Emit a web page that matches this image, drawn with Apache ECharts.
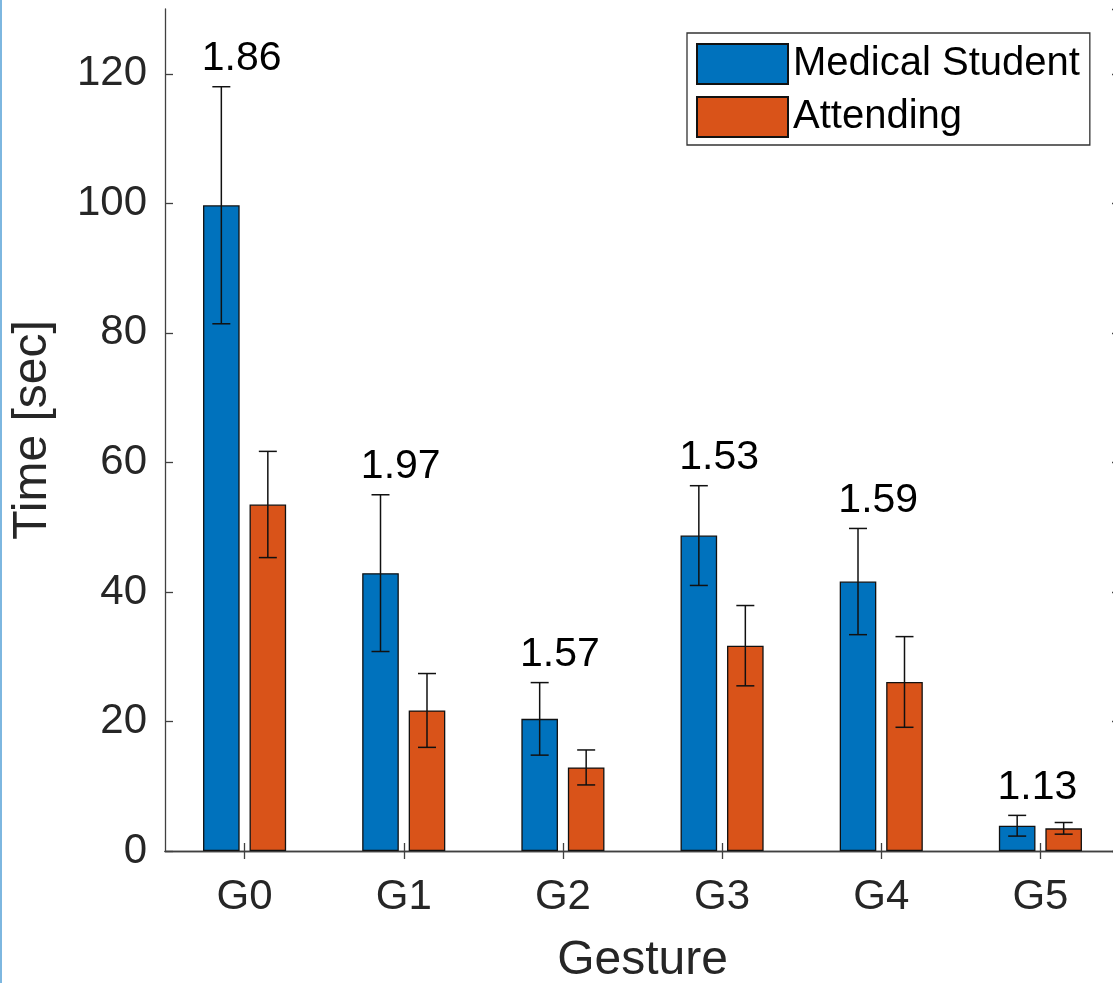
<!DOCTYPE html>
<html>
<head>
<meta charset="utf-8">
<script src="https://cdn.jsdelivr.net/npm/echarts@6/dist/echarts.min.js"></script>
<style>
  html, body { margin: 0; padding: 0; background: #fff; }
  #chart { width: 1113px; height: 983px; }
</style>
</head>
<body>
<div id="chart"></div>
<script>
const categories = ['G0', 'G1', 'G2', 'G3', 'G4', 'G5']
const studentMean = [99.7, 42.9, 20.4, 48.7, 41.6, 3.9]
const studentStd = [18.3, 12.1, 5.6, 7.7, 8.2, 1.6]
const attendingMean = [53.5, 21.7, 12.9, 31.7, 26.1, 3.5]
const attendingStd = [8.2, 5.7, 2.7, 6.2, 7.0, 0.9]
const ratioLabels = ['1.86', '1.97', '1.57', '1.53', '1.59', '1.13']

const BLUE = '#0072BD'
const ORANGE = '#D95319'
const AXIS = '#404040'
const TEXT = '#262626'
const FONT = '"Liberation Sans", Arial, sans-serif'
const BAR_W = 0.23
const BAR_GAP = 0.27

const chart = echarts.init(document.getElementById('chart'))

// error bar drawn at the centre of its bar (side = -1 left bar, +1 right bar)
const errorBar = (side) => (params, api) => {
  const i = api.value(0)
  const m = api.value(1)
  const s = api.value(2)
  const top = api.coord([i, m + s])
  const bot = api.coord([i, m - s])
  const band = api.size([1, 0])[0]
  const x = top[0] + side * band * BAR_W * (1 + BAR_GAP) / 2
  const cap = 9
  const style = { stroke: '#111', lineWidth: 1.5 }
  return {
    type: 'group',
    children: [
      { type: 'line', shape: { x1: x, y1: top[1], x2: x, y2: bot[1] }, style },
      { type: 'line', shape: { x1: x - cap, y1: top[1], x2: x + cap, y2: top[1] }, style },
      { type: 'line', shape: { x1: x - cap, y1: bot[1], x2: x + cap, y2: bot[1] }, style }
    ]
  }
}

const ratioText = (params, api) => {
  const p = api.coord([api.value(0), api.value(1)])
  return {
    type: 'text',
    x: p[0] - 3,
    y: p[1] - 28,
    style: {
      text: ratioLabels[params.dataIndex],
      fill: '#000',
      font: '41px ' + FONT,
      align: 'center',
      verticalAlign: 'middle'
    }
  }
}

const labelTops = categories.map((c, i) =>
  [i, Math.max(studentMean[i] + studentStd[i], attendingMean[i] + attendingStd[i])])

const yAxisBase = {
  type: 'value',
  min: 0,
  max: 130,
  interval: 20,
  axisLine: { show: true, lineStyle: { color: AXIS, width: 1.3 } },
  axisTick: { show: true, inside: true, length: 8, lineStyle: { color: AXIS, width: 1.3 } },
  splitLine: { show: false }
}

const xAxisBase = {
  type: 'category',
  data: categories,
  axisLine: { show: true, lineStyle: { color: AXIS, width: 1.3 } },
  axisTick: { show: true, inside: true, length: 8, alignWithLabel: true, lineStyle: { color: AXIS, width: 1.3 } }
}

chart.setOption({
  animation: false,
  backgroundColor: '#fff',
  textStyle: { fontFamily: FONT },
  graphic: [{
    type: 'rect',
    left: 0,
    top: 0,
    shape: { width: 2, height: 983 },
    style: { fill: '#7db7e0' }
  }],
  grid: { left: 165, top: 9, width: 955, height: 842, outerBoundsMode: 'none', containLabel: false },
  legend: {
    left: 687,
    top: 33,
    orient: 'vertical',
    selectedMode: false,
    padding: [10, 10, 7, 9],
    itemWidth: 91,
    itemHeight: 40,
    itemGap: 11,
    borderColor: '#333',
    borderWidth: 1.3,
    backgroundColor: '#fff',
    icon: 'rect',
    textStyle: { fontSize: 40, lineHeight: 40, color: '#000', fontFamily: FONT },
    data: ['Medical Student', 'Attending']
  },
  xAxis: [
    {
      ...xAxisBase,
      name: 'Gesture',
      nameLocation: 'middle',
      nameGap: 86,
      nameTextStyle: { fontSize: 48, color: TEXT, fontFamily: FONT },
      axisLabel: { fontSize: 42, color: TEXT, margin: 25, fontFamily: FONT }
    },
    { ...xAxisBase, position: 'top', axisLabel: { show: false } }
  ],
  yAxis: [
    {
      ...yAxisBase,
      name: 'Time [sec]',
      nameLocation: 'middle',
      nameGap: 108,
      nameTextStyle: { fontSize: 48, color: TEXT, fontFamily: FONT },
      axisLabel: { fontSize: 42, color: TEXT, margin: 18, showMaxLabel: false, fontFamily: FONT }
    },
    { ...yAxisBase, position: 'right', axisLabel: { show: false } }
  ],
  series: [
    {
      name: 'Medical Student',
      type: 'bar',
      data: studentMean,
      barWidth: BAR_W * 100 + '%',
      barGap: BAR_GAP * 100 + '%',
      itemStyle: { color: BLUE, borderColor: '#111', borderWidth: 1.3 }
    },
    {
      name: 'Attending',
      type: 'bar',
      data: attendingMean,
      barWidth: BAR_W * 100 + '%',
      barGap: BAR_GAP * 100 + '%',
      itemStyle: { color: ORANGE, borderColor: '#111', borderWidth: 1.3 }
    },
    {
      type: 'custom',
      renderItem: errorBar(-1),
      data: studentMean.map((m, i) => [i, m, studentStd[i]]),
      z: 5,
      silent: true
    },
    {
      type: 'custom',
      renderItem: errorBar(1),
      data: attendingMean.map((m, i) => [i, m, attendingStd[i]]),
      z: 5,
      silent: true
    },
    {
      type: 'custom',
      renderItem: ratioText,
      data: labelTops,
      z: 6,
      silent: true
    }
  ]
})
</script>
</body>
</html>
